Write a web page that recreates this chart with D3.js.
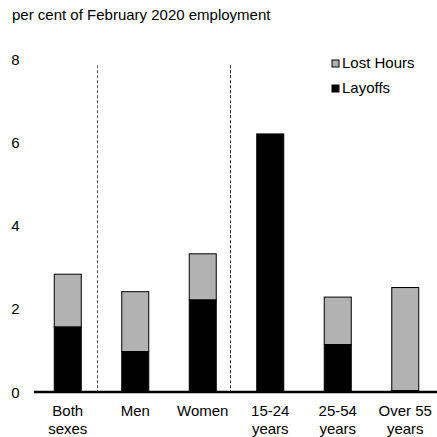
<!DOCTYPE html>
<html><head><meta charset="utf-8">
<script src="https://cdn.jsdelivr.net/npm/d3@7"></script>
<style>body{margin:0;background:#fff}svg{display:block;font-family:"Liberation Sans",Arial,sans-serif}</style>
</head><body><svg id="c" width="437" height="437"></svg>
<script>
const categories = [["Both","sexes"],["Men"],["Women"],["15-24","years"],["25-54","years"],["Over 55","years"]];
const layoffs   = [1.56, 0.97, 2.21, 6.2, 1.14, 0.03];
const lostHours = [1.27, 1.44, 1.11, 0.0, 1.14, 2.48];
const yTicks = [0, 2, 4, 6, 8];
const seriesNames = ["Lost Hours", "Layoffs"];
const colors = {"Lost Hours": "#b2b2b2", "Layoffs": "#000000"};

const svg = d3.select("#c");
const keys = categories.map(c => c.join(" "));
const x = d3.scaleBand().domain(keys).range([34, 439]).paddingInner(0.6).paddingOuter(0.3);
const y = d3.scaleLinear().domain([0, 8]).range([392, 59]);

svg.append("text").attr("x", 12).attr("y", 20).attr("font-size", 15).attr("fill", "#000")
  .text("per cent of February 2020 employment");

// y tick labels
svg.selectAll(".yt").data(yTicks).enter().append("text")
  .attr("x", 15.5).attr("y", d => y(d) + 5.5).attr("text-anchor", "middle")
  .attr("font-size", 15).text(d => d);

// dashed separators
const seps = [[0, 1, 97.5, "#555"], [2, 3, 230.5, "#222"]];
seps.forEach(s => {
  svg.append("line").attr("x1", s[2]).attr("x2", s[2]).attr("y1", y(7.85)).attr("y2", y(0))
    .attr("stroke", s[3]).attr("stroke-width", 1).attr("stroke-dasharray", "3,2");
});

const data = keys.map((k, i) => ({k, lay: layoffs[i], lost: lostHours[i]}));
const g = svg.append("g");
data.forEach(d => {
  if (d.lost > 0) g.append("rect").attr("x", x(d.k)).attr("width", x.bandwidth())
    .attr("y", y(d.lay + d.lost)).attr("height", y(d.lay) - y(d.lay + d.lost))
    .attr("fill", colors["Lost Hours"]).attr("stroke", "#000").attr("stroke-width", 1);
  g.append("rect").attr("x", x(d.k)).attr("width", x.bandwidth())
    .attr("y", y(d.lay)).attr("height", y(0) - y(d.lay))
    .attr("fill", colors["Layoffs"]).attr("stroke", "#000").attr("stroke-width", 1);
});

// x axis line
svg.append("line").attr("x1", 34).attr("x2", 437).attr("y1", y(0)).attr("y2", y(0))
  .attr("stroke", "#000").attr("stroke-width", 2.5);

// x labels
categories.forEach((c, i) => {
  const t = svg.append("text").attr("text-anchor", "middle").attr("font-size", 15)
    .attr("x", x(keys[i]) + x.bandwidth() / 2).attr("y", 415.5);
  c.forEach((line, j) => t.append("tspan").attr("x", x(keys[i]) + x.bandwidth() / 2)
    .attr("dy", j === 0 ? 0 : 18).text(line));
});

// legend
seriesNames.forEach((n, i) => {
  const ly = 60 + i * 25;
  svg.append("rect").attr("x", 332).attr("y", ly).attr("width", 7).attr("height", 7)
    .attr("fill", colors[n]).attr("stroke", "#000").attr("stroke-width", 1);
  svg.append("text").attr("x", 342).attr("y", ly + 8).attr("font-size", 15).text(n);
});
</script></body></html>
